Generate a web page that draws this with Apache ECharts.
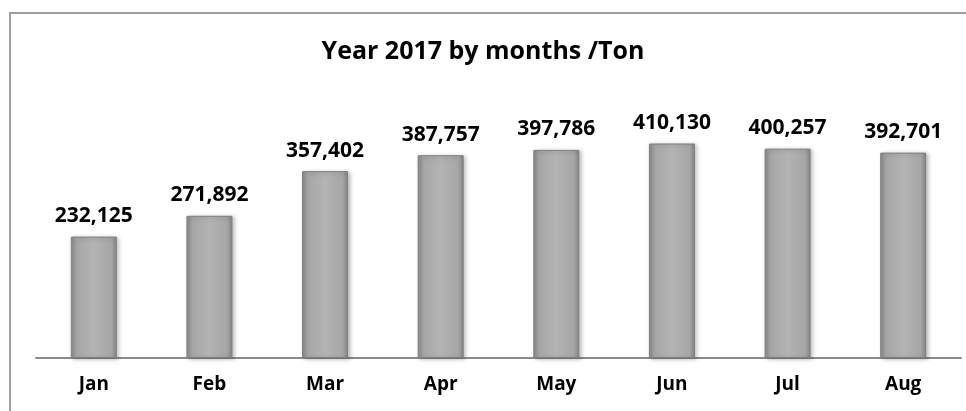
<!DOCTYPE html>
<html>
<head>
<meta charset="utf-8">
<script src="https://cdn.jsdelivr.net/npm/echarts@6/dist/echarts.min.js"></script>
<style>html,body{margin:0;padding:0;background:#fff;}#c{width:966px;height:411px;}</style>
</head>
<body>
<div id="c"></div>
<script>
var categories = ['Jan','Feb','Mar','Apr','May','Jun','Jul','Aug'];
var values = [232125, 271892, 357402, 387757, 397786, 410130, 400257, 392701];
var titleText = 'Year 2017 by months /Ton';

var chart = echarts.init(document.getElementById('c'), null, {renderer:'canvas'});
var font = '"Open Sans", "Liberation Sans", sans-serif';
chart.setOption({
  animation: false,
  backgroundColor: '#fff',
  title: {
    text: titleText, left: 'center', top: 34,
    textStyle: {fontFamily: font, fontWeight: 'bold', fontSize: 25, color: '#000'}
  },
  graphic: [{
    type: 'rect', shape: {x: 10, y: 13, width: 1000, height: 500},
    style: {fill: 'none', stroke: '#a0a0a0', lineWidth: 2}, silent: true, z: -1
  }],
  grid: {left: 36, right: 5, top: 96.5, bottom: 53},
  xAxis: {
    type: 'category', data: categories,
    axisLine: {lineStyle: {color: '#8c8c8c', width: 2}},
    axisTick: {show: false},
    axisLabel: {margin: 17, fontFamily: font, fontWeight: 'bold', fontSize: 19, color: '#000'}
  },
  yAxis: {type: 'value', min: 0, max: 500000, show: false, splitLine: {show: false}},
  series: [{
    type: 'bar', data: values, barWidth: 46,
    itemStyle: {
      color: new echarts.graphic.LinearGradient(0, 0, 1, 0, [
        {offset: 0, color: '#8a8a8a'},
        {offset: 0.12, color: '#a6a6a6'},
        {offset: 0.5, color: '#b3b3b3'},
        {offset: 0.88, color: '#a6a6a6'},
        {offset: 1, color: '#858585'}
      ]),
      borderColor: '#7f7f7f', borderWidth: 1,
      shadowColor: 'rgba(0,0,0,0.25)', shadowBlur: 4, shadowOffsetX: 2, shadowOffsetY: 1
    },
    label: {
      show: true, position: 'top', distance: 10,
      fontFamily: font, fontWeight: 'bold', fontSize: 21, color: '#000',
      formatter: function(p){ return p.value.toLocaleString('en-US'); }
    }
  }]
});
</script>
</body>
</html>
